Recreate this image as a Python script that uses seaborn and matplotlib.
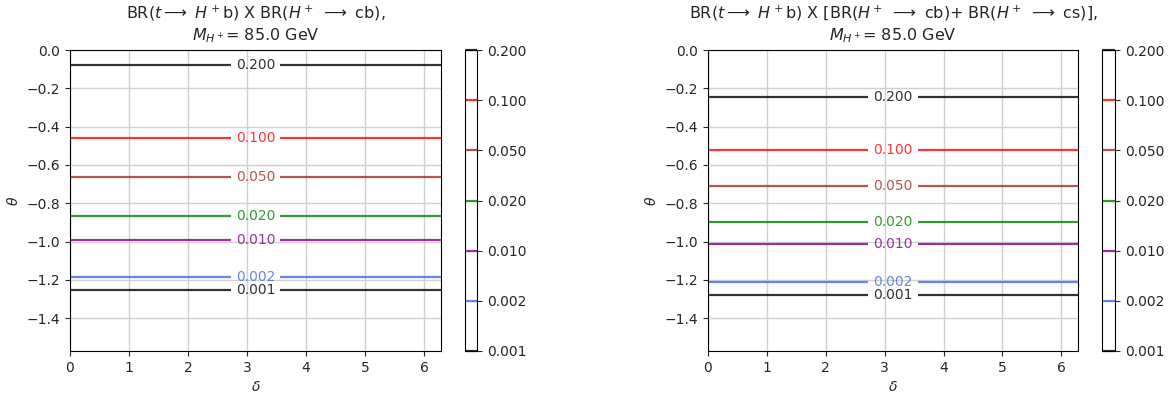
import numpy as np
import matplotlib
matplotlib.use("Agg")
import matplotlib.pyplot as plt
import seaborn as sns

# contour levels and their colours
levels = [0.001, 0.002, 0.010, 0.020, 0.050, 0.100, 0.200]
level_colors = ["black", "royalblue", "purple", "green", "brown", "red", "black"]

# theta position where each level is reached; delta has no effect
theta_cb = [-1.254, -1.187, -0.989, -0.864, -0.661, -0.458, -0.078]
theta_cbcs = [-1.277, -1.211, -1.015, -0.900, -0.711, -0.522, -0.246]

# values at the edges of the theta range
edge_low = 0.0005
edge_high_cb = 0.21
edge_high_cbcs = 0.30

mass = 85.0
titles = [
    r"BR($t\longrightarrow$ $H^+$b) X BR($H^+$ $\longrightarrow$ cb),"
    "\n" r"$M_{H^+}$= %.1f GeV" % mass,
    r"BR($t\longrightarrow$ $H^+$b) X [BR($H^+$ $\longrightarrow$ cb)+ BR($H^+$ $\longrightarrow$ cs)],"
    "\n" r"$M_{H^+}$= %.1f GeV" % mass,
]

sns.set_style("ticks", {"axes.grid": True, "grid.color": "#d0d0d0",
                        "axes.edgecolor": "black"})
plt.rcParams["font.family"] = ["DejaVu Sans"]
plt.rcParams["font.size"] = 10

fig = plt.figure(figsize=(11.73, 4), dpi=100)
W, H = 1173, 400
ax_boxes = [(70, 371, 465, 12), (708, 370, 1102, 13)]

delta = np.array([0, 2 * np.pi])
panels = [(theta_cb, edge_high_cb), (theta_cbcs, edge_high_cbcs)]

for (thetas, top), (x0, w, cx, cw), title in zip(panels, ax_boxes, titles):
    ax = fig.add_axes([x0 / W, 49 / H, w / W, 301 / H])
    cax = fig.add_axes([cx / W, 49 / H, cw / W, 301 / H])

    th = np.array([-np.pi / 2] + thetas + [0.0])
    vals = np.array([edge_low] + levels + [top])
    Z = np.tile(vals[:, None], (1, len(delta)))

    cs = ax.contour(delta, th, Z, levels=levels, colors=level_colors,
                    linewidths=1.6, alpha=0.8)
    ax.clabel(cs, fmt="%.3f", inline=True, fontsize=10,
              manual=[(np.pi, t) for t in thetas])
    ax.set_xlim(0, 2 * np.pi)
    ax.set_ylim(-np.pi / 2, 0)
    ax.set_xlabel(r"$\delta$")
    ax.set_ylabel(r"$\theta$")
    ax.set_title(title, fontsize=11.5, pad=7)
    ax.grid(True, linewidth=1)

    cb = fig.colorbar(cs, cax=cax)
    cb.set_ticks(levels)
    cb.ax.set_yticklabels(["%.3f" % v for v in levels])
    cb.ax.tick_params(labelsize=10)

fig.savefig("out.png", dpi=100)
